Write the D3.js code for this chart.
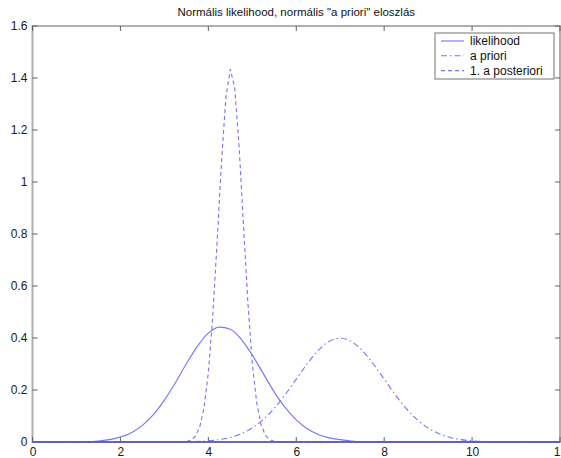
<!DOCTYPE html>
<html><head><meta charset="utf-8">
<script src="https://cdn.jsdelivr.net/npm/d3@7"></script>
<style>body{margin:0;background:#fff}svg{display:block}text{font-family:"Liberation Sans",Arial,sans-serif}</style>
</head><body><svg id="c" width="561" height="458"></svg>
<script>
const title = 'Normális likelihood, normális "a priori" eloszlás';
const seriesNames = ["likelihood", "a priori", "1. a posteriori"];
const xTicks = [0, 2, 4, 6, 8, 10, 12];
const yTicks = [0, 0.2, 0.4, 0.6, 0.8, 1, 1.2, 1.4, 1.6];

// likelihood (solid)
const likX = [0, 1, 1.25, 1.5, 1.75, 2, 2.25, 2.5, 2.75, 3, 3.25, 3.5, 3.75, 4, 4.25, 4.5, 4.75, 5, 5.25, 5.5, 5.75, 6, 6.25, 6.5, 6.75, 7, 7.25, 7.5, 8, 12];
const likY = [0, 0, 0.0008, 0.004, 0.009, 0.019, 0.036, 0.064, 0.105, 0.161, 0.228, 0.301, 0.368, 0.419, 0.442, 0.434, 0.395, 0.334, 0.263, 0.192, 0.132, 0.085, 0.051, 0.029, 0.016, 0.009, 0.004, 0.0015, 0, 0];

// a priori (dash-dot)
const priX = [0, 3, 3.5, 4, 4.25, 4.5, 4.75, 5, 5.25, 5.5, 5.75, 6, 6.25, 6.5, 6.75, 7, 7.25, 7.5, 7.75, 8, 8.25, 8.5, 8.75, 9, 9.25, 9.5, 9.75, 10, 10.5, 11, 12];
const priY = [0, 0.0001, 0.0009, 0.0044, 0.0091, 0.0175, 0.0317, 0.054, 0.0863, 0.1295, 0.1826, 0.242, 0.301, 0.352, 0.3867, 0.399, 0.3867, 0.352, 0.301, 0.242, 0.1826, 0.1295, 0.0863, 0.054, 0.0317, 0.0175, 0.0091, 0.0044, 0.0009, 0.0001, 0];

// 1. a posteriori (dashed)
const posX = [0, 3.4, 3.5, 3.6, 3.7, 3.8, 3.9, 4.0, 4.1, 4.2, 4.3, 4.4, 4.5, 4.6, 4.7, 4.8, 4.9, 5.0, 5.1, 5.2, 5.3, 5.4, 5.5, 5.6, 12];
const posY = [0, 0.0005, 0.002, 0.0067, 0.021, 0.055, 0.129, 0.267, 0.484, 0.770, 1.079, 1.327, 1.434, 1.362, 1.137, 0.833, 0.536, 0.303, 0.151, 0.066, 0.025, 0.0086, 0.0025, 0.0007, 0];

const svg = d3.select("#c");
const L = 32.5, R = 560, T = 26, B = 442;
const x = d3.scaleLinear().domain([0, 12]).range([L, R]);
const y = d3.scaleLinear().domain([0, 1.6]).range([B, T]);

const blue = "#7474ff";
const dashes = [null, "6,3,1.5,3", "4,3"];
const series = [
  {name: seriesNames[0], xs: likX, ys: likY, curve: d3.curveMonotoneX},
  {name: seriesNames[1], xs: priX, ys: priY, curve: d3.curveMonotoneX},
  {name: seriesNames[2], xs: posX, ys: posY, curve: d3.curveLinear}
];

// box
const grey = "#b0b0b0";
svg.append("rect").attr("x", L).attr("y", T).attr("width", R - L).attr("height", B - T)
  .attr("fill", "none").attr("stroke", grey).attr("stroke-width", 2);

// ticks
const tickCol = "#606060";
xTicks.forEach(t => {
  svg.append("line").attr("x1", x(t)).attr("x2", x(t)).attr("y1", B).attr("y2", B - 5).attr("stroke", tickCol);
  svg.append("line").attr("x1", x(t)).attr("x2", x(t)).attr("y1", T).attr("y2", T + 5).attr("stroke", tickCol);
});
yTicks.forEach(t => {
  svg.append("line").attr("x1", L).attr("x2", L + 5).attr("y1", y(t)).attr("y2", y(t)).attr("stroke", tickCol);
  svg.append("line").attr("x1", R).attr("x2", R - 5).attr("y1", y(t)).attr("y2", y(t)).attr("stroke", tickCol);
});

// axes labels via d3 axes
const xAxis = svg.append("g").attr("transform", `translate(0,${B})`)
  .call(d3.axisBottom(x).tickValues(xTicks).tickSize(0).tickPadding(5).tickFormat(d3.format("d")));
const yAxis = svg.append("g").attr("transform", `translate(${L},0)`)
  .call(d3.axisLeft(y).tickValues(yTicks).tickSize(0).tickPadding(5).tickFormat(d => d === 0 || d === 1 ? String(d) : d.toFixed(1)));
[xAxis, yAxis].forEach(a => {
  a.select(".domain").remove();
  a.selectAll("text").attr("font-size", 12).attr("fill", "#1a1a1a").attr("font-family", '"Liberation Sans",Arial,sans-serif');
});

// curves
series.forEach((s, i) => {
  const pts = s.xs.map((v, j) => [v, s.ys[j]]);
  svg.append("path").datum(pts)
    .attr("d", d3.line().x(d => x(d[0])).y(d => y(d[1])).curve(s.curve))
    .attr("fill", "none").attr("stroke", blue).attr("stroke-width", 1.1)
    .attr("stroke-dasharray", dashes[i]);
});

// baseline where curves overlap at zero
svg.append("line").attr("x1", x(0)).attr("x2", x(12)).attr("y1", y(0)).attr("y2", y(0))
  .attr("stroke", "#5050c4").attr("stroke-width", 1.6);

// title
svg.append("text").attr("x", (L + R) / 2).attr("y", 16).attr("text-anchor", "middle")
  .attr("font-size", 11.5).attr("fill", "#111").text(title);

// legend
const lg = svg.append("g");
lg.append("rect").attr("x", 435).attr("y", 33).attr("width", 119).attr("height", 46)
  .attr("fill", "#fff").attr("stroke", "#707070").attr("stroke-width", 1);
series.forEach((s, i) => {
  const yy = 41 + i * 14.8;
  lg.append("line").attr("x1", 441).attr("x2", 464).attr("y1", yy).attr("y2", yy)
    .attr("stroke", blue).attr("stroke-width", 1.1).attr("stroke-dasharray", dashes[i]);
  lg.append("text").attr("x", 470).attr("y", yy + 4).attr("font-size", 12).attr("fill", "#111").text(s.name);
});
</script></body></html>
